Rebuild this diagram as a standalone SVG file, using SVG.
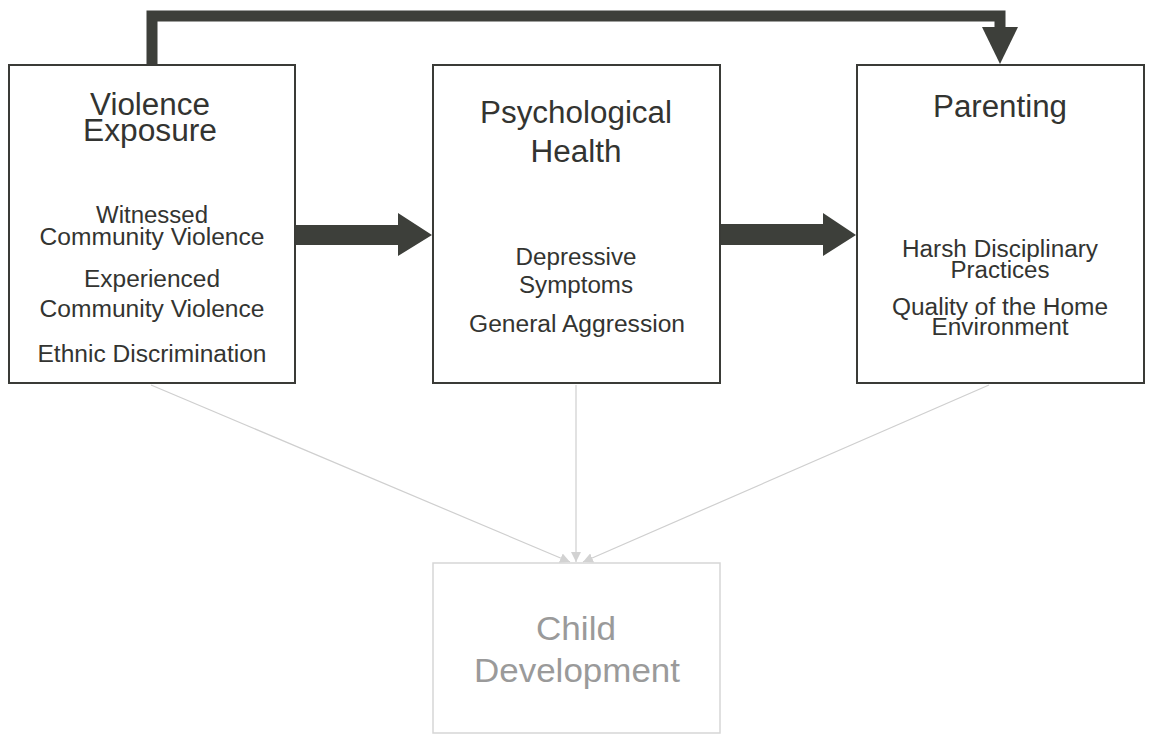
<svg xmlns="http://www.w3.org/2000/svg" width="1150" height="734" viewBox="0 0 1150 734">
<defs>
<style>
.box{fill:#fff;stroke:#3a3b37;stroke-width:2}
.gbox{fill:#fff;stroke:#d6d6d6;stroke-width:1.5}
.t{font-family:"Liberation Sans",Arial,sans-serif;fill:#333431;text-anchor:middle}
.title{font-size:31px}
.item{font-size:23px}
.gt{font-family:"Liberation Sans",Arial,sans-serif;fill:#9a9a9a;text-anchor:middle;font-size:34px}
.thick{fill:#3d3f3a}
.thin{stroke:#cfcfcf;stroke-width:1.2;fill:none}
</style>
<marker id="ga" viewBox="0 0 10 10" refX="10" refY="5" markerWidth="10" markerHeight="10" markerUnits="userSpaceOnUse" orient="auto">
<path d="M0,0 L10,5 L0,10 z" fill="#d2d2d2"/>
</marker>
</defs>
<rect width="1150" height="734" fill="#fff"/>

<g id="connectors">
<path d="M152 66 V16 H1000 V30" fill="none" stroke="#3d3f3a" stroke-width="11" stroke-linejoin="miter"/>
<polygon class="thick" points="982,27 1018,27 1000,64"/>
<polygon class="thick" points="295,225 398,225 398,213 432,235 398,256 398,245 295,245"/>
<polygon class="thick" points="720,224 823,224 823,213 856,235 823,256 823,245 720,245"/>
<line class="thin" x1="151" y1="385" x2="570" y2="562" marker-end="url(#ga)"/>
<line class="thin" x1="576" y1="385" x2="576" y2="562" marker-end="url(#ga)"/>
<line class="thin" x1="989" y1="385" x2="583" y2="562" marker-end="url(#ga)"/>
</g>

<g id="violence-exposure">
<rect class="box" x="9" y="65" width="286" height="318"/>
<text class="t title" x="150" y="115" textLength="120" lengthAdjust="spacingAndGlyphs">Violence</text>
<text class="t title" x="150" y="141" textLength="134" lengthAdjust="spacingAndGlyphs">Exposure</text>
<text class="t item" x="152" y="223" textLength="112" lengthAdjust="spacingAndGlyphs">Witnessed</text>
<text class="t item" x="152" y="245" textLength="225" lengthAdjust="spacingAndGlyphs">Community Violence</text>
<text class="t item" x="152" y="287" textLength="136" lengthAdjust="spacingAndGlyphs">Experienced</text>
<text class="t item" x="152" y="317" textLength="225" lengthAdjust="spacingAndGlyphs">Community Violence</text>
<text class="t item" x="152" y="362" textLength="229" lengthAdjust="spacingAndGlyphs">Ethnic Discrimination</text>
</g>

<g id="psychological-health">
<rect class="box" x="433" y="65" width="287" height="318"/>
<text class="t title" x="576" y="123" textLength="192" lengthAdjust="spacingAndGlyphs">Psychological</text>
<text class="t title" x="576" y="162" textLength="91" lengthAdjust="spacingAndGlyphs">Health</text>
<text class="t item" x="576" y="265" textLength="121" lengthAdjust="spacingAndGlyphs">Depressive</text>
<text class="t item" x="576" y="293" textLength="114" lengthAdjust="spacingAndGlyphs">Symptoms</text>
<text class="t item" x="577" y="332" textLength="216" lengthAdjust="spacingAndGlyphs">General Aggression</text>
</g>

<g id="parenting">
<rect class="box" x="857" y="65" width="287" height="318"/>
<text class="t title" x="1000" y="117" textLength="134" lengthAdjust="spacingAndGlyphs">Parenting</text>
<text class="t item" x="1000" y="257" textLength="196" lengthAdjust="spacingAndGlyphs">Harsh Disciplinary</text>
<text class="t item" x="1000" y="278" textLength="99" lengthAdjust="spacingAndGlyphs">Practices</text>
<text class="t item" x="1000" y="315" textLength="216" lengthAdjust="spacingAndGlyphs">Quality of the Home</text>
<text class="t item" x="1000" y="335" textLength="137" lengthAdjust="spacingAndGlyphs">Environment</text>
</g>

<g id="child-development">
<rect class="gbox" x="433" y="563" width="287" height="170"/>
<text class="gt" x="576" y="640" textLength="80" lengthAdjust="spacingAndGlyphs">Child</text>
<text class="gt" x="577" y="682" textLength="206" lengthAdjust="spacingAndGlyphs">Development</text>
</g>
</svg>
